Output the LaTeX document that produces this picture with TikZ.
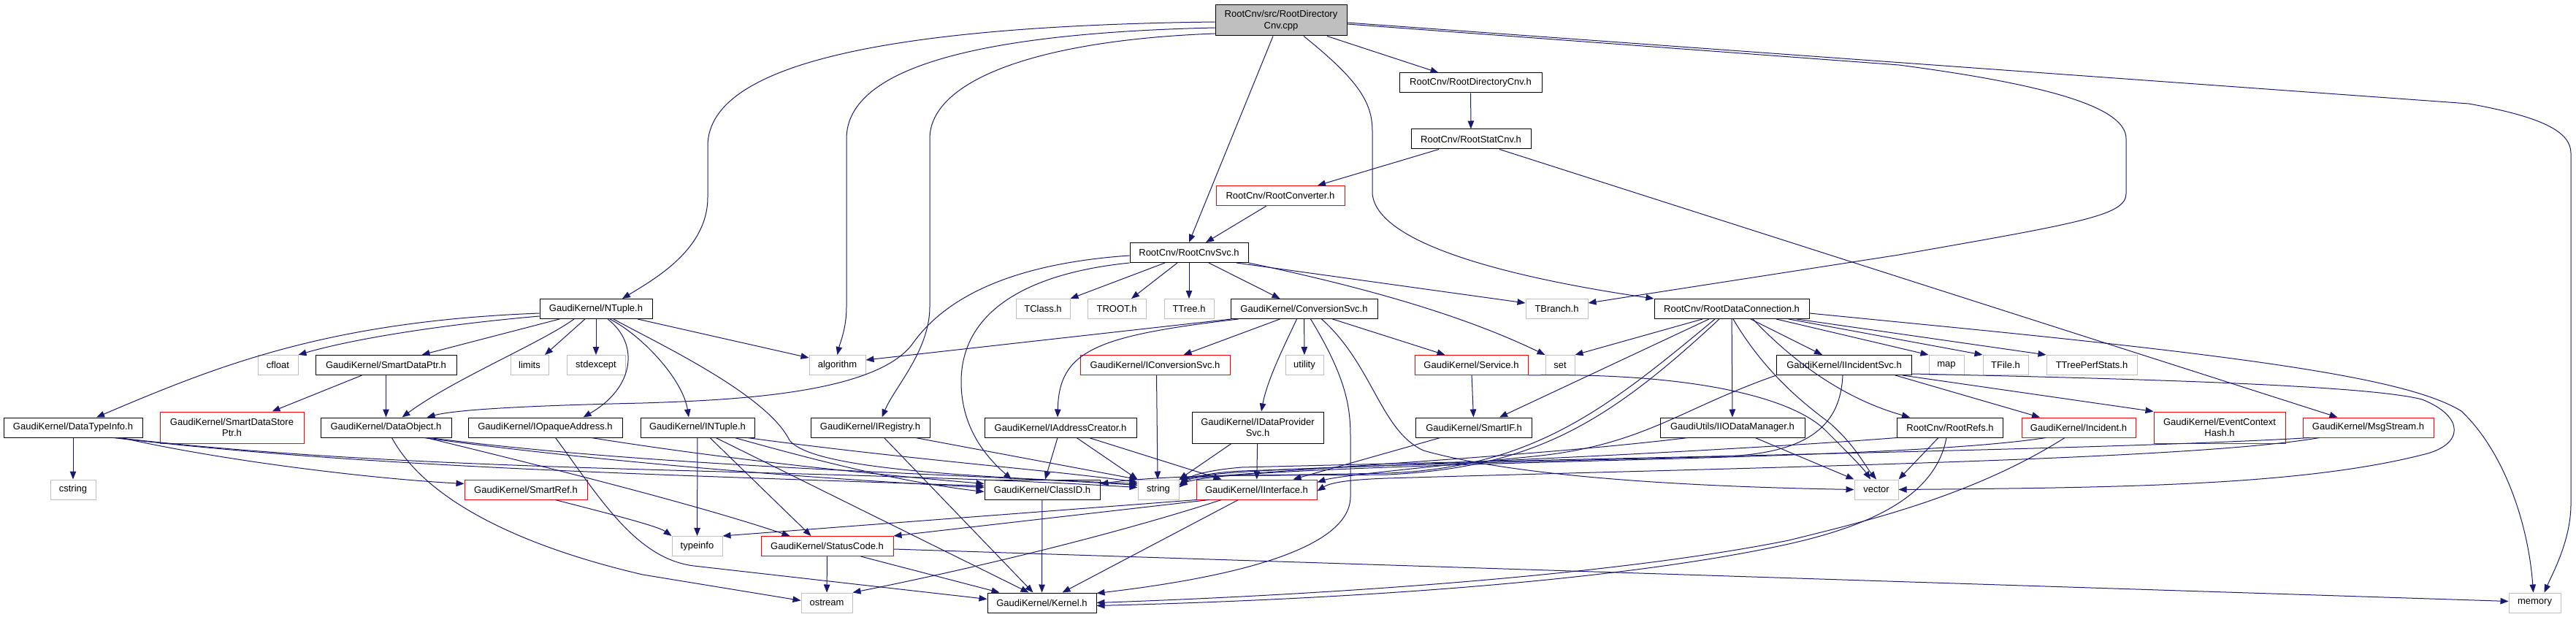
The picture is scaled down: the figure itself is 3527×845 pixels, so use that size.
\documentclass[tikz,border=0pt]{standalone}
\usepackage{fontspec}
\setmainfont{Liberation Sans}
\usetikzlibrary{arrows.meta}
\definecolor{edgec}{HTML}{191970}
\definecolor{greyb}{HTML}{BFBFBF}
\begin{document}
\begin{tikzpicture}[x=1pt,y=-1pt,
  nb/.style={draw=black, line width=1pt, minimum height=27pt, inner sep=0pt, font=\fontsize{13}{15.5}\selectfont, text=black, align=center},
  ng/.style={nb, draw=greyb},
  nr/.style={nb, draw=red},
  e/.style={draw=edgec, line width=1pt, -{Triangle[length=11pt,width=8.5pt]}}]
\useasboundingbox (0,0) rectangle (3527,845);
% nodes
\node[nb, minimum width=180pt, minimum height=42pt, fill=greyb] (main) at (1754,28) {RootCnv/src/RootDirectory\\Cnv.cpp};
\node[nb, minimum width=195pt] (rdc) at (2013.5,113.5) {RootCnv/RootDirectoryCnv.h};
\node[nb, minimum width=164pt] (rsc) at (2014,190.5) {RootCnv/RootStatCnv.h};
\node[nr, minimum width=176pt] (rconv) at (1753,268) {RootCnv/RootConverter.h};
\node[nb, minimum width=162pt] (rsvc) at (1628,346) {RootCnv/RootCnvSvc.h};
\node[nb, minimum width=154pt] (ntuple) at (816,423) {GaudiKernel/NTuple.h};
\node[ng, minimum width=74pt] (tclass) at (1428,423) {TClass.h};
\node[ng, minimum width=80pt] (troot) at (1529,423) {TROOT.h};
\node[ng, minimum width=68pt] (ttree) at (1628,423) {TTree.h};
\node[nb, minimum width=201pt] (convsvc) at (1785.5,423) {GaudiKernel/ConversionSvc.h};
\node[ng, minimum width=85pt] (tbranch) at (2131.5,423) {TBranch.h};
\node[nb, minimum width=212pt] (rdconn) at (2371,423) {RootCnv/RootDataConnection.h};
\node[ng, minimum width=55pt] (cfloat) at (380.5,500) {cfloat};
\node[nb, minimum width=193pt] (sdptr) at (528.5,500) {GaudiKernel/SmartDataPtr.h};
\node[ng, minimum width=52pt] (limits) at (725,500) {limits};
\node[ng, minimum width=80pt] (stdexcept) at (816,500) {stdexcept};
\node[ng, minimum width=77pt] (algorithm) at (1146.5,500) {algorithm};
\node[nr, minimum width=205pt] (iconv) at (1581.5,500) {GaudiKernel/IConversionSvc.h};
\node[ng, minimum width=52pt] (utility) at (1786,500) {utility};
\node[nr, minimum width=155pt] (service) at (2014.5,500) {GaudiKernel/Service.h};
\node[ng, minimum width=40pt] (set) at (2136,500) {set};
\node[nb, minimum width=185pt] (incsvc) at (2525,500) {GaudiKernel/IIncidentSvc.h};
\node[ng, minimum width=48pt] (map) at (2665,500) {map};
\node[ng, minimum width=62pt] (tfile) at (2746,500) {TFile.h};
\node[ng, minimum width=124pt] (ttps) at (2864,500) {TTreePerfStats.h};
\node[nb, minimum width=190pt] (dti) at (100,585.5) {GaudiKernel/DataTypeInfo.h};
\node[nr, minimum width=197pt, minimum height=43pt] (sdsp) at (317.5,585.5) {GaudiKernel/SmartDataStore\\Ptr.h};
\node[nb, minimum width=179pt] (dobj) at (528.5,585.5) {GaudiKernel/DataObject.h};
\node[nb, minimum width=211pt] (iopaq) at (746.5,585.5) {GaudiKernel/IOpaqueAddress.h};
\node[nb, minimum width=156pt] (intuple) at (955,585.5) {GaudiKernel/INTuple.h};
\node[nb, minimum width=163pt] (ireg) at (1191.5,585.5) {GaudiKernel/IRegistry.h};
\node[nb, minimum width=208pt] (iaddr) at (1452,585.5) {GaudiKernel/IAddressCreator.h};
\node[nb, minimum width=180pt, minimum height=43pt] (idps) at (1722,585.5) {GaudiKernel/IDataProvider\\Svc.h};
\node[nb, minimum width=159pt] (smartif) at (2018,585.5) {GaudiKernel/SmartIF.h};
\node[nb, minimum width=198pt] (iodm) at (2372,585.5) {GaudiUtils/IIODataManager.h};
\node[nb, minimum width=145pt] (rrefs) at (2670,585.5) {RootCnv/RootRefs.h};
\node[nr, minimum width=156pt] (incident) at (2846,585.5) {GaudiKernel/Incident.h};
\node[nr, minimum width=180pt, minimum height=43pt] (ech) at (3039,585.5) {GaudiKernel/EventContext\\Hash.h};
\node[nr, minimum width=179pt] (msg) at (3242.5,585.5) {GaudiKernel/MsgStream.h};
\node[ng, minimum width=62pt] (cstring) at (100,670.5) {cstring};
\node[nr, minimum width=168pt] (sref) at (720,670.5) {GaudiKernel/SmartRef.h};
\node[nb, minimum width=158pt] (classid) at (1427,670.5) {GaudiKernel/ClassID.h};
\node[ng, minimum width=56pt] (string) at (1586,670.5) {string};
\node[nr, minimum width=165pt] (iint) at (1720.5,670.5) {GaudiKernel/IInterface.h};
\node[ng, minimum width=60pt] (vector) at (2569,670.5) {vector};
\node[ng, minimum width=69pt] (typeinfo) at (954.5,748) {typeinfo};
\node[nr, minimum width=181pt] (stcode) at (1132.5,748) {GaudiKernel/StatusCode.h};
\node[ng, minimum width=70pt] (ostream) at (1132,825.5) {ostream};
\node[nb, minimum width=149pt] (kernel) at (1426.5,825.5) {GaudiKernel/Kernel.h};
\node[ng, minimum width=71pt] (memory) at (3470.5,825.5) {memory};
% main
\draw[e] ([yshift=-2]main.west) .. controls (1250,35) and (969,80) .. (969,200) -- (969,270) .. controls (969,340) and (900,380) .. ([xshift=36]ntuple.north);
\draw[e] ([yshift=-10]main.west) .. controls (1350,45) and (1159,90) .. (1159,190) -- (1159,420) .. controls (1159,450) and (1150,470) .. (algorithm.north);
\draw[e] ([yshift=-18]main.west) .. controls (1420,55) and (1273,110) .. (1273,190) -- (1273,420) .. controls (1273,480) and (1225,530) .. ([xshift=16]ireg.north);
\draw[e] ([xshift=-11]main.south) -- (rsvc.north);
\draw[e] ([xshift=63]main.south) -- ([xshift=-44]rdc.north);
\draw[e] ([xshift=31]main.south) .. controls (1860,110) and (1879,140) .. (1879,180) -- (1879,265) .. controls (1885,340) and (2100,385) .. (rdconn.north west);
\draw[e] ([yshift=-5]main.east) -- (2600,89) .. controls (2820,118) and (2911,150) .. (2911,190) -- (2911,265) .. controls (2911,295) and (2850,305) .. (2600,349) -- ([yshift=8]tbranch.east);
\draw[e] ([yshift=-3]main.east) -- (3380,142) .. controls (3480,160) and (3520,180) .. (3520,210) -- (3520,690) .. controls (3520,740) and (3495,785) .. ([xshift=13]memory.north);
% RootCnv chain
\draw[e] (rdc) -- (rsc);
\draw[e] ([xshift=-44]rsc.south) -- ([xshift=51]rconv.north);
\draw[e] ([xshift=39]rsc.south) -- ([xshift=-42]msg.north);
\draw[e] ([xshift=-19]rconv.south) -- ([xshift=23]rsvc.north);
% RootCnvSvc
\draw[e] ([xshift=-33]rsvc.south) -- (tclass.north east);
\draw[e] ([xshift=-16]rsvc.south) -- ([xshift=20]troot.north);
\draw[e] (rsvc) -- (ttree);
\draw[e] ([xshift=27]rsvc.south) -- ([xshift=-33]convsvc.north);
\draw[e] ([xshift=65]rsvc.south) -- ([yshift=8]tbranch.west);
\draw[e] (rsvc.south east) .. controls (1900,400) and (2020,440) .. (set.north west);
\draw[e] ([yshift=-4]rsvc.west) .. controls (1400,360) and (1300,400) .. (1250,470) .. controls (1200,540) and (1000,548) .. (880,552) .. controls (700,556) and (620,562) .. ([xshift=56]dobj.north);
\draw[e] (rsvc.south west) .. controls (1400,375) and (1316,430) .. (1316,523) .. controls (1316,590) and (1355,630) .. ([xshift=-42]classid.north);
% NTuple
\draw[e] ([yshift=-6]ntuple.west) .. controls (450,440) and (300,500) .. ([xshift=32]dti.north);
\draw[e] ([yshift=-10]ntuple.west) .. controls (600,445) and (480,465) .. (cfloat.north east);
\draw[e] ([xshift=-50]ntuple.south) -- ([xshift=49]sdptr.north);
\draw[e] ([xshift=-30]ntuple.south) .. controls (740,470) and (620,520) .. ([xshift=22]dobj.north);
\draw[e] ([xshift=-15]ntuple.south) -- ([xshift=21]limits.north);
\draw[e] (ntuple) -- (stdexcept);
\draw[e] ([xshift=16]ntuple.south) .. controls (875,470) and (870,530) .. ([xshift=52]iopaq.north);
\draw[e] ([xshift=19]ntuple.south) .. controls (880,460) and (935,520) .. ([xshift=-12]intuple.north);
\draw[e] ([xshift=57]ntuple.south) -- ([yshift=10]algorithm.west);
\draw[e] ([xshift=24]ntuple.south) .. controls (900,470) and (1050,540) .. (1081,603) .. controls (1110,640) and (1300,652) .. ([yshift=8]string.west);
% DataTypeInfo
\draw[e] (dti) -- (cstring);
\draw[e] ([xshift=66]dti.south) .. controls (300,630) and (500,655) .. ([yshift=8]sref.west);
\draw[e] ([xshift=55]dti.south) .. controls (500,640) and (900,650) .. ([yshift=5]classid.west);
\draw[e] ([xshift=60]dti.south) .. controls (600,650) and (1100,640) .. ([yshift=3]string.west);
% SmartDataPtr
\draw[e] ([xshift=-33]sdptr.south) -- ([xshift=55]sdsp.north);
\draw[e] (sdptr) -- (dobj);
% DataObject
\draw[e] ([xshift=52]dobj.south) .. controls (800,630) and (1100,655) .. ([yshift=3]classid.west);
\draw[e] ([xshift=60]dobj.south) .. controls (900,640) and (1300,648) .. ([yshift=6]string.west);
\draw[e] ([xshift=55]dobj.south) .. controls (750,640) and (950,690) .. ([xshift=-51]stcode.north);
\draw[e] ([xshift=8]dobj.south) .. controls (580,680) and (700,745) .. (880,787) -- ([yshift=3]ostream.west);
% IOpaqueAddress
\draw[e] ([xshift=14]iopaq.south) .. controls (820,680) and (870,765) .. (950,775) -- ([yshift=5]kernel.west);
\draw[e] ([xshift=63]iopaq.south) .. controls (1000,630) and (1200,650) .. ([yshift=8]classid.west);
% SmartRef
\draw[e] ([xshift=40]sref.south) .. controls (820,700) and (900,720) .. (typeinfo.north west);
% INTuple
\draw[e] (intuple) -- (typeinfo);
\draw[e] ([xshift=17]intuple.south) -- ([xshift=-22]stcode.north);
\draw[e] ([xshift=25]intuple.south) -- ([xshift=-18]kernel.north);
\draw[e] ([xshift=51]intuple.south) .. controls (1150,640) and (1250,662) .. ([yshift=-3]classid.west);
\draw[e] ([xshift=68]intuple.south) .. controls (1250,630) and (1450,645) .. ([yshift=10]string.west);
% IRegistry
\draw[e] ([xshift=19]ireg.south) -- ([xshift=-12]kernel.north);
\draw[e] ([xshift=62]ireg.south) -- (string.north west);
% IAddressCreator
\draw[e] ([xshift=-4]iaddr.south) -- ([xshift=4]classid.north);
\draw[e] ([xshift=22]iaddr.south) -- (string.north west);
\draw[e] ([xshift=39]iaddr.south) -- ([xshift=-48]iint.north);
% IConversionSvc, IDataProviderSvc
\draw[e] ([xshift=2]iconv.south) -- ([xshift=-1]string.north);
\draw[e] ([xshift=-36]idps.south) -- (string.north east);
\draw[e] (idps) -- (iint);
% ConversionSvc
\draw[e] ([xshift=-100]convsvc.south) -- ([yshift=7]algorithm.east);
\draw[e] ([xshift=-90]convsvc.south) .. controls (1500,460) and (1450,480) .. ([xshift=-4]iaddr.north);
\draw[e] ([xshift=-33]convsvc.south) -- ([xshift=39]iconv.north);
\draw[e] ([xshift=-10]convsvc.south) .. controls (1760,470) and (1735,520) .. ([xshift=5]idps.north);
\draw[e] (convsvc) -- (utility);
\draw[e] ([xshift=9]convsvc.south) .. controls (1845,520) and (1849,560) .. (1849,600) -- (1849,680) .. controls (1849,760) and (1650,795) .. ([yshift=13]kernel.east);
\draw[e] ([xshift=24]convsvc.south) .. controls (1880,500) and (1890,590) .. (1949,617) .. controls (2100,660) and (2400,668) .. (vector.west);
\draw[e] ([xshift=39]convsvc.south) -- ([xshift=-36]service.north);
% Service, SmartIF
\draw[e] (service) -- (smartif);
\draw[e] (service.south east) .. controls (2300,510) and (2450,540) .. (2500,590) .. controls (2530,620) and (2550,640) .. ([xshift=-8]vector.north);
\draw[e] ([xshift=-46]smartif.south) -- ([xshift=50]iint.north);
% RootDataConnection
\draw[e] ([xshift=-40]rdconn.south) -- (set.north east);
\draw[e] ([xshift=-31]rdconn.south) -- ([xshift=35]smartif.north);
\draw[e] ([xshift=-23]rdconn.south) .. controls (2200,560) and (2100,640) .. (1900,648) .. controls (1700,652) and (1600,650) .. ([yshift=8]classid.east);
\draw[e] ([xshift=-17]rdconn.south) .. controls (2200,580) and (2100,640) .. (1900,650) .. controls (1700,652) and (1640,650) .. (string.north east);
\draw[e] (rdconn) -- (iodm);
\draw[e] ([xshift=2]rdconn.south) .. controls (2420,517) and (2480,560) .. (2506,580) .. controls (2540,610) and (2555,640) .. (vector.north);
\draw[e] ([xshift=26]rdconn.south) -- ([xshift=-30]incsvc.north);
\draw[e] ([xshift=29]rdconn.south) .. controls (2450,490) and (2520,545) .. ([xshift=-55]rrefs.north);
\draw[e] ([xshift=61]rdconn.south) -- (map.north west);
\draw[e] ([xshift=78]rdconn.south) -- (tfile.north west);
\draw[e] ([xshift=89]rdconn.south) -- (ttps.north west);
\draw[e] ([yshift=-6]rdconn.east) -- (2640,445) .. controls (3100,490) and (3300,520) .. (3370,563) .. controls (3430,620) and (3462,720) .. ([xshift=-2]memory.north);
% IIncidentSvc
\draw[e] ([xshift=70]incsvc.south) -- ([xshift=-53]incident.north);
\draw[e] ([xshift=80]incsvc.south) -- (ech.north west);
\draw[e] (incsvc.south west) .. controls (2300,560) and (2250,610) .. (2100,625) .. controls (1950,640) and (1830,652) .. ([yshift=10]iint.east);
\draw[e] ([xshift=-2]incsvc.south) .. controls (2520,580) and (2480,620) .. (2363,625) .. controls (2000,635) and (1700,640) .. (string.north east);
\draw[e] ([yshift=-12]incsvc.east) .. controls (3000,520) and (3250,530) .. (3316,547) .. controls (3375,570) and (3375,610) .. (3316,623) .. controls (3150,665) and (2900,668) .. (vector.east);
% Incident
\draw[e] ([xshift=-45]incident.south) .. controls (2700,615) and (2500,622) .. (2300,628) .. controls (2000,636) and (1660,645) .. ([yshift=6]string.east);
\draw[e] ([xshift=-19]incident.south) .. controls (2700,680) and (2550,715) .. (2449,740) .. controls (2200,790) and (1800,815) .. (kernel.east);
% MsgStream
\draw[e] ([xshift=-67]msg.south) .. controls (3000,630) and (2400,640) .. (1900,655) .. controls (1840,657) and (1820,662) .. ([yshift=-2]iint.east);
\draw[e] ([xshift=-80]msg.south) .. controls (2900,615) and (2300,625) .. (1700,640) .. controls (1640,645) and (1625,655) .. ([yshift=6]string.east);
% RootRefs
\draw[e] (rrefs.south west) .. controls (2400,615) and (2000,635) .. (1700,645) .. controls (1640,648) and (1625,658) .. ([yshift=3]string.east);
\draw[e] ([xshift=-16]rrefs.south) -- (vector.north east);
\draw[e] ([xshift=-5]rrefs.south) .. controls (2650,680) and (2560,720) .. (2449,745) .. controls (2200,800) and (1800,822) .. ([yshift=-4]kernel.east);
% IIODataManager
\draw[e] ([xshift=-61]iodm.south) .. controls (2100,625) and (1800,640) .. (string.north east);
\draw[e] ([xshift=31]iodm.south) -- (vector.north west);
% StatusCode
\draw[e] (stcode) -- (ostream);
\draw[e] ([xshift=46]stcode.south) -- ([xshift=-58]kernel.north);
\draw[e] ([yshift=-4]stcode.east) -- ([yshift=2]memory.west);
% IInterface
\draw[e] ([xshift=-82]iint.south) -- (typeinfo.north east);
\draw[e] ([xshift=-65]iint.south) -- (stcode.north east);
\draw[e] ([xshift=-48]iint.south) .. controls (1500,740) and (1300,785) .. (ostream.north east);
\draw[e] ([xshift=-25]iint.south) -- ([xshift=28]kernel.north);
% ClassID
\draw[e] (classid) -- (kernel);
\end{tikzpicture}
\end{document}
